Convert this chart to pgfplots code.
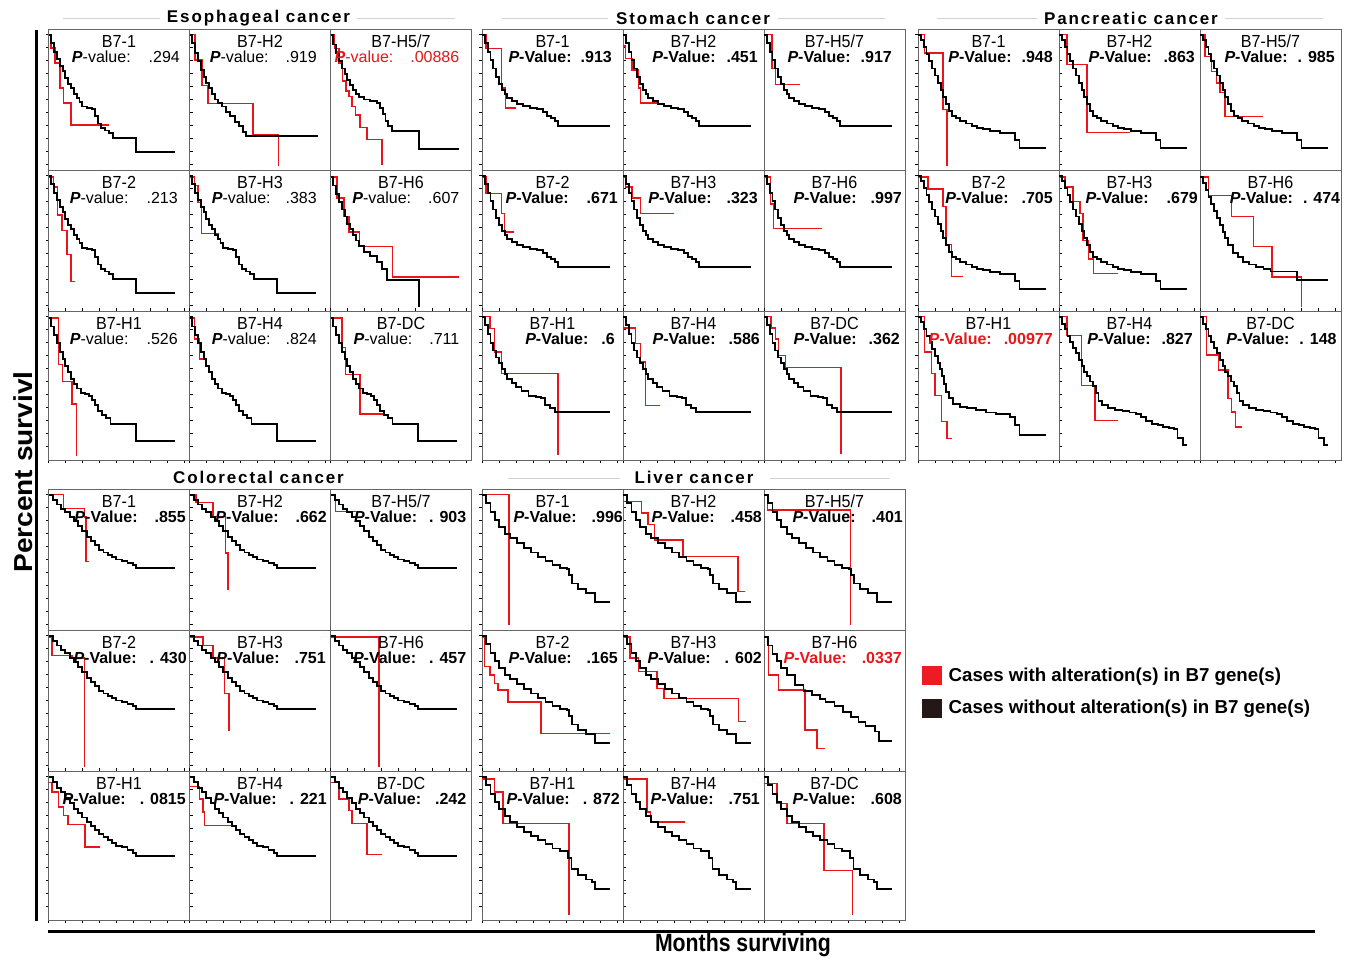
\documentclass[border=0pt]{standalone}
\usepackage{graphicx}
\usepackage{pgfplots}
\pgfplotsset{compat=1.18}
\usepackage{pgfplotstable}
\usepackage{fontspec}
\setmainfont{Liberation Sans}
\definecolor{kmred}{RGB}{232,22,24}
\definecolor{legred}{RGB}{237,28,36}
\definecolor{legblk}{RGB}{35,24,21}

% ---------- black (unaltered) survival curves, one per group/shape ----------
\pgfplotstableread{
x y
0 96
2 90
4 84
6 79
8 74
10 70
12 65
14 61
16 58
18 54
20 51
22 48
24 45
27 44
31 43
33 38
35 33
37 30
40 28
43 26
46 23
62 13
90 13
}\EsoA
\pgfplotstableread{
x y
0 96
2 90
4 83
6 77
8 71
10 66
12 62
14 58
16 54
18 50
20 47.5
23 45
26 41
29 38
32 34
35 31
38 27
40 24
91 24
}\EsoHtwo
\pgfplotstableread{
x y
0 96
2 89
4 83
6 77
8 72
10 68
12 64
14 60
16 57
18 54
20 52
24 50
28 49
33 47.5
35 44
37 40
39 35
41 31
43.6 27.4
63 15
91 15
}\EsoHfs
\pgfplotstableread{
x y
0 95
2 89
4 83
6 77
8 72
10 67
12 62
14 58
16 54
18 50
20 46
23.7 42
28 39
33 35
36.5 30
40 22
63 3
}\EsoHsix
\pgfplotstableread{
x y
0 95
2 89
4 83
6 77
8 71
10 66
12 61
14 57
16 52
18 48
20 45
23 42
26 41
29 40
31 37
33 33
35 29
38 26
41 24
44 20
62 8
90 8
}\EsoC
\pgfplotstableread{
x y
0 96
2 90
4 84
6 78
8 72
10 66
12 61
14 57
16 54
18 51
21 49
25 47
29 45.5
34 44
39 43
43 41
46 38
49 37
52 35
54 31
91 31
}\StoA
\pgfplotstableread{
x y
0 96
2 90
4 84
6 77
8 72
10 67
12 63
14 59
16 55.6
18 52
21 49
24 46
28 43
33 40
38 39
42 38
44.5 33
48 31
51.6 28.4
91 28.4
}\StoC
\pgfplotstableread{
x y
0 96
2 92
4 87
6 82
8 77
10 72
12 67
14 62
16 57
18 52
20 47
22 42
24 38
27 37
30 35
34 33
38 31
42 30
46 29
51 27.4
58 26.5
65 26
69 21.5
72 15.6
91 15.6
}\PanA
\pgfplotstableread{
x y
0 95
2 91
4 86
6 81
8 76
10 71
12 66
14 61
16.6 56
18 52
20 47
23.7 41
27 38
30.8 35
35 33
40 31
45 30
50 28
68.7 22
91 22
}\PanHsix
\pgfplotstableread{
x y
0 96
2 92
4 87
6 82
8.3 78
10 73
12 68
14 63
15.4 59
17 54
18.5 48
20 42.6
22 38
24.9 34
30 32
35 31
41 29.5
48 28
55 27
65 25
69 19
72 12
91 12
}\PanHone
\pgfplotstableread{
x y
0 96
2 91
4 87
6 82
8 78
10 74
12 70
14 65
16 61
18 57
20 54
22 50
24 47
26 42
28 36
30.8 33
35 31
40 30
45 29
50 28
54.5 27
58 25
62 22
66 20
70 19
74 18
78 17
81.7 16
84 10
87.7 4.7
91 4.7
}\PanT
\pgfplotstableread{
x y
0 96
3 92
6 89
9 86
12 84
15 80
18 77
21 74
24 70
27 66
30 63
33 60
36 57
39 55
42 53
45 51.5
48 50
52 49
56 47.5
60 46
62 44
90 44
}\ColA
\pgfplotstableread{
x y
0 96
3 92
6 88
9 85
12 81
15 77
18 73
21 70
24 67
27 64
30 61
33 58
36 55
39 53
42 51
45 49
48 47
52 46
56 44
60 42
62 40
90 40
}\ColC
\pgfplotstableread{
x y
0 96
3 90
6 84
9 78
12 73
16 68
20 65
25 62
30 58
35 55
40 52
45 49
50 46
55 44
60 43
62 39
64 33
68 29
74 26
80 20
91 20
}\LivA
\pgfplotstableread{
x y
0 95
3 89
6 83
9 78
12 73
16 68
22 61
28 57
34 54
40 51
43.6 49
50 46
56 42
62 38
67 35
72 32
79 28
81.5 21
91 21
}\LivHsix
\pgfplotstableread{
x y
0 96
3 90
6 84
9 78
12 73
16 68
20 64
25 60
30 57
35 54
40 51
45 48
50 45
55 43
61 38
63.5 30.7
68 26
74 23
77.7 21
80 16.5
91 16.5
}\LivC

\pgfplotsset{
  km/.style={scale only axis, width=141pt, height=141pt,
    xmin=0, xmax=100, ymin=0, ymax=100, anchor=north west,
    axis line style={black!60, line width=0.8pt},
    xtick=\empty, ytick=\empty, clip mode=individual,
    tick style={black, line width=0.5pt}, major tick length=3pt, tick align=outside},
  lastrow/.style={height=149pt, ymin=-5.7, xtick={0,12,...,96}, xticklabels={}},
  firstcol/.style={ytick={4,13.2,...,96}, yticklabels={}},
}
\tikzset{
  blk/.style={black, line width=1.9pt, const plot, mark=none},
  rd/.style={kmred, line width=1.5pt, const plot, mark=none},
  lab/.style={font=\fontsize{17.5}{19}\selectfont, inner sep=0pt},
  pv/.style={anchor=east, font=\fontsize{16}{18}\selectfont, inner sep=0pt},
  ttl/.style={font=\fontsize{17}{19}\selectfont\bfseries\addfontfeatures{LetterSpace=11}, inner sep=0pt},
  tline/.style={black!18, line width=1pt},
}
\newcommand{\pe}[2]{\textbf{\textit{P}}-value:\hspace{#1pt}#2}
\newcommand{\ps}[2]{\textbf{\textit{P}-Value:\hspace{#1pt}#2}}

% #1 x, #2 y (from top), #3 options, #4 black table, #5 red coords, #6 label, #7 pvalue right x, #8 pvalue text
\newcommand{\km}[8]{%
\begin{axis}[km, at={(#1pt,-#2pt)}, #3]
\addplot[rd] coordinates {#5};
\addplot[blk] table {#4};
\node[lab] at (axis cs:50,91.5) {\scalebox{0.92}[1]{#6}};
\node[pv] at (axis cs:#7,80.3) {#8};
\end{axis}}

\begin{document}
\begin{tikzpicture}
\path[use as bounding box] (0pt,0pt) rectangle (1353pt,-961pt);

% frame lines
\draw[line width=3pt] (36pt,-30pt) -- (36pt,-921pt);
\draw[line width=3pt] (48pt,-931pt) -- (1315pt,-931pt);

% title flanking lines
\draw[tline] (63pt,-18pt) -- (160pt,-18pt);
\draw[tline] (357pt,-18pt) -- (455pt,-18pt);
\draw[tline] (502pt,-18pt) -- (608pt,-18pt);
\draw[tline] (778pt,-18pt) -- (885pt,-18pt);
\draw[tline] (937pt,-18pt) -- (1037pt,-18pt);
\draw[tline] (1225pt,-18pt) -- (1323pt,-18pt);
\draw[tline] (508pt,-478pt) -- (620pt,-478pt);
\draw[tline] (770pt,-478pt) -- (890pt,-478pt);

% titles
\node[ttl] at (258.5pt,-18pt) {Esophageal cancer};
\node[ttl] at (693pt,-18pt) {Stomach cancer};
\node[ttl] at (1131pt,-18pt) {Pancreatic cancer};
\node[ttl] at (258.5pt,-477pt) {Colorectal cancer};
\node[ttl] at (694pt,-477pt) {Liver cancer};

% axis titles
\node[rotate=90, font=\fontsize{26}{28}\selectfont\bfseries, inner sep=0pt] at (23pt,-472pt) {\scalebox{1.08}[1]{Percent survivl}};
\node[font=\fontsize{25}{27}\selectfont\bfseries, inner sep=0pt] at (743pt,-945pt) {\scalebox{0.85}[1]{Months surviving}};

% ===== Esophageal cancer =====
\km{48.5}{29}{firstcol}{\EsoA}{(0,96)(1.9,86.5)(4.7,76)(8.3,58)(10.6,47.5)(16,32)(42.6,32)}{B7-1}{93.3}{\pe{18}{.294}}
\km{189.5}{29}{}{\EsoHtwo}{(0,96)(4,78)(9,60)(13,47)(45,25)(63,3)}{B7-H2}{90.4}{\pe{17}{.919}}
\km{330.5}{29}{}{\EsoHfs}{(0,96)(3,86)(6,76)(8.5,63)(11,56)(13,52)(15.4,45)(17.8,39)(21,30)(26,21.5)(36.5,3.3)}{B7-H5/7}{91.5}{\color{kmred}\pe{17}{.00886}}
\km{48.5}{170}{firstcol}{\EsoA}{(0,95)(3.5,88)(6.5,68)(9.5,57)(13,40)(16,21)(19,21)}{B7-2}{91.8}{\pe{18}{.213}}
\km{189.5}{170}{}{\EsoA}{(0,95)(3.5,89)(6,77)(8.5,55)(21,55)}{B7-H3}{90.4}{\pe{15}{.383}}
\km{330.5}{170}{}{\EsoHsix}{(0,95)(4.7,80)(9.5,67)(13,56)(20.5,45.6)(44,24)(91,24)}{B7-H6}{91.5}{\pe{17}{.607}}
\km{48.5}{311}{lastrow,firstcol}{\EsoC}{(0,95)(7,62)(10,50)(16.6,34)(20,-3)}{B7-H1}{91.8}{\pe{18}{.526}}
\km{189.5}{311}{lastrow}{\EsoC}{(0,95)(3.5,80)(7,66)(9.5,66)}{B7-H4}{90.4}{\pe{15}{.824}}
\km{330.5}{311}{lastrow}{\EsoC}{(0,95)(8.3,74)(10.6,55)(21,27)(39,27)}{B7-DC}{91.5}{\pe{17}{.711}}

% ===== Stomach cancer =====
\km{482}{29}{firstcol}{\StoA}{(0,96)(3,86)(13.7,58)(16.6,44)(24.4,44)}{B7-1}{92.2}{\ps{9}{.913}}
\km{623}{29}{}{\StoA}{(0,88)(1.7,79)(6.4,71)(11,58)(12.5,47.5)(24,47.5)}{B7-H2}{95.7}{\ps{11}{.451}}
\km{764}{29}{}{\StoA}{(0,96)(5.7,72)(8,60.5)(25.8,60.5)}{B7-H5/7}{90.8}{\ps{10}{.917}}
\km{482}{170}{firstcol}{\StoA}{(0,95)(3,83.5)(13.7,69)(16,56)(23,56)}{B7-2}{96.5}{\ps{18}{.671}}
\km{623}{170}{}{\StoA}{(0,95)(1.7,88)(6.4,80)(12.3,69)(36,69)}{B7-H3}{95.7}{\ps{15}{.323}}
\km{764}{170}{}{\StoA}{(0,95)(4.5,76)(6.9,58.6)(41,58.6)}{B7-H6}{97.9}{\ps{14}{.997}}
\km{482}{311}{lastrow,firstcol}{\StoC}{(0,96)(5.5,87.5)(9,71)(13.7,55.6)(54,-2.4)}{B7-H1}{94.3}{\ps{13}{.6}}
\km{623}{311}{lastrow}{\StoC}{(0,88)(8.8,77)(12.3,64)(15.9,33)(26.5,33)}{B7-H4}{97.2}{\ps{13}{.586}}
\km{764}{311}{lastrow}{\StoC}{(0,96)(5,88)(8,80)(10.4,68.6)(15.2,60)(54.7,-1.2)}{B7-DC}{96.5}{\ps{12}{.362}}

% ===== Pancreatic cancer =====
\km{918}{29}{firstcol}{\PanA}{(0,96)(4.7,83)(17.8,43)(20.6,2.6)}{B7-1}{95.7}{\ps{10}{.948}}
\km{1059}{29}{}{\PanA}{(0,96)(5.5,74.7)(19.7,26.7)(50,26.7)}{B7-H2}{96.5}{\ps{12}{.863}}
\km{1200}{29}{}{\PanA}{(0,96)(3.6,80.6)(8.3,70)(11.8,61.7)(14,55)(17.8,38)(45,38)}{B7-H5/7}{95.7}{\ps{10}{. 985}}
\km{918}{170}{firstcol}{\PanA}{(0,95)(7,86.5)(17.8,74)(20,47)(23.7,24.3)(32,24.3)}{B7-2}{95.7}{\ps{13}{.705}}
\km{1059}{170}{}{\PanA}{(0,95)(4.3,88)(10,77.5)(15,69)(17,50)(20.9,37)(24.4,26.7)(42,26.7)}{B7-H3}{98.6}{\ps{18}{.679}}
\km{1200}{170}{}{\PanHsix}{(0,95)(5.9,82)(22.5,67)(38,45.6)(51,24)(72,3)}{B7-H6}{99.5}{\ps{10}{. 474}}
\km{918}{311}{lastrow,firstcol}{\PanHone}{(0,96)(4.7,71)(9.5,55.6)(12,40)(16.6,21.5)(20.6,9.5)(24.4,9.5)}{B7-H1}{95.7}{\color{kmred}\ps{12}{.00977}}
\km{1059}{311}{lastrow}{\PanT}{(0,96)(5.5,82.7)(16,47)(25.6,22.5)(42,22.5)}{B7-H4}{95}{\ps{11}{.827}}
\km{1200}{311}{lastrow}{\PanT}{(0,96)(4.7,68.8)(13,58)(20,38)(22.5,28.4)(25,17.7)(29.6,17.7)}{B7-DC}{97}{\ps{10}{. 148}}

% ===== Colorectal cancer =====
\km{48.5}{489}{firstcol}{\ColA}{(0,96)(10.7,86)(25.5,80)(26.5,48.7)(28.4,48.7)}{B7-1}{97.5}{\ps{17}{.855}}
\km{189.5}{489}{}{\ColA}{(0,96)(4.7,90.5)(16.6,80.6)(25.4,54.6)(27.3,28.6)}{B7-H2}{97.5}{\ps{17}{.662}}
\km{330.5}{489}{}{\ColA}{(0,96)(3.5,84)(17.8,84)}{B7-H5/7}{96.4}{\ps{12}{. 903}}
\km{48.5}{630}{firstcol}{\ColA}{(0,95)(2.4,82)(16.6,80)(25.6,3)}{B7-2}{98.2}{\ps{13}{. 430}}
\km{189.5}{630}{}{\ColA}{(0,95)(9.5,89)(16.6,80)(24.9,55)(28,28.4)}{B7-H3}{96.8}{\ps{15}{.751}}
\km{330.5}{630}{}{\ColA}{(0,95)(34.4,3)}{B7-H6}{96.4}{\ps{13}{. 457}}
\km{48.5}{771}{lastrow,firstcol}{\ColC}{(0,92)(2.4,85)(7,74.5)(10.7,68.6)(14,62)(26,46)(36.7,46)}{B7-H1}{97.5}{\ps{14}{. 0815}}
\km{189.5}{771}{lastrow}{\ColC}{(0,89)(7,80)(9.5,71)(10.7,61.5)(32,61.5)}{B7-H4}{97.5}{\ps{13}{. 221}}
\km{330.5}{771}{lastrow}{\ColC}{(0,92)(5.9,80)(13,72)(15.4,62.6)(26,40.7)(36.7,40.7)}{B7-DC}{96.4}{\ps{14}{.242}}

% ===== Liver cancer =====
\km{482}{489}{firstcol}{\LivA}{(0,96)(19,3.8)}{B7-1}{100}{\ps{15}{.996}}
\km{623}{489}{}{\LivA}{(0,91)(13,83)(17.8,74.7)(22.5,64)(42.6,52)(81.7,27.4)(86.5,27.4)}{B7-H2}{98.6}{\ps{16}{.458}}
\km{764}{489}{}{\LivA}{(0,96)(2.4,85)(61.4,3.8)}{B7-H5/7}{98.6}{\ps{16}{.401}}
\km{482}{630}{firstcol}{\LivA}{(0,95)(1.9,74)(5.5,68)(9,62)(11.4,57.4)(18.5,49)(42,26.7)(91,26.7)}{B7-2}{96.5}{\ps{15}{.165}}
\km{623}{630}{}{\LivA}{(0,95)(5,80)(11,70.4)(24,58.6)(29,51.5)(82,35)(87,35)}{B7-H3}{98.6}{\ps{14}{. 602}}
\km{764}{630}{}{\LivHsix}{(0,95)(3.3,68)(10.4,57.4)(29,29)(37.6,16)(43.6,16)}{B7-H6}{97.9}{\color{kmred}\ps{15}{.0337}}
\km{482}{771}{lastrow,firstcol}{\LivC}{(0,94.5)(9,85)(15,62.6)(61.6,-2.4)}{B7-H1}{97.9}{\ps{13}{. 872}}
\km{623}{771}{lastrow}{\LivC}{(0,94.5)(17,71)(19.4,64)(44,64)}{B7-H4}{97.2}{\ps{15}{.751}}
\km{764}{771}{lastrow}{\LivC}{(0,91)(9.2,77)(16.4,62.6)(42.4,29.5)(62.6,-2)}{B7-DC}{97.9}{\ps{15}{.608}}

% ===== legend =====
\begin{axis}[at={(922pt,-666pt)}, anchor=north west, hide axis, scale only axis,
  width=5pt, height=5pt, xmin=0, xmax=1, ymin=0, ymax=1,
  legend style={draw=none, fill=none, at={(0,1)}, anchor=north west,
    inner sep=0pt, row sep=14pt, column sep=0pt,
    font=\fontsize{18.7}{20}\selectfont\bfseries,
    nodes={inner sep=0pt, anchor=west}},
  legend cell align=left,
  legend image code/.code={\fill[#1] (0pt,-9pt) rectangle (19pt,9pt);}]
\addlegendimage{legred}
\addlegendentry{\hspace{7pt}Cases with alteration(s) in B7 gene(s)}
\addlegendimage{legblk}
\addlegendentry{\hspace{7pt}Cases without alteration(s) in B7 gene(s)}
\end{axis}
\end{tikzpicture}
\end{document}
